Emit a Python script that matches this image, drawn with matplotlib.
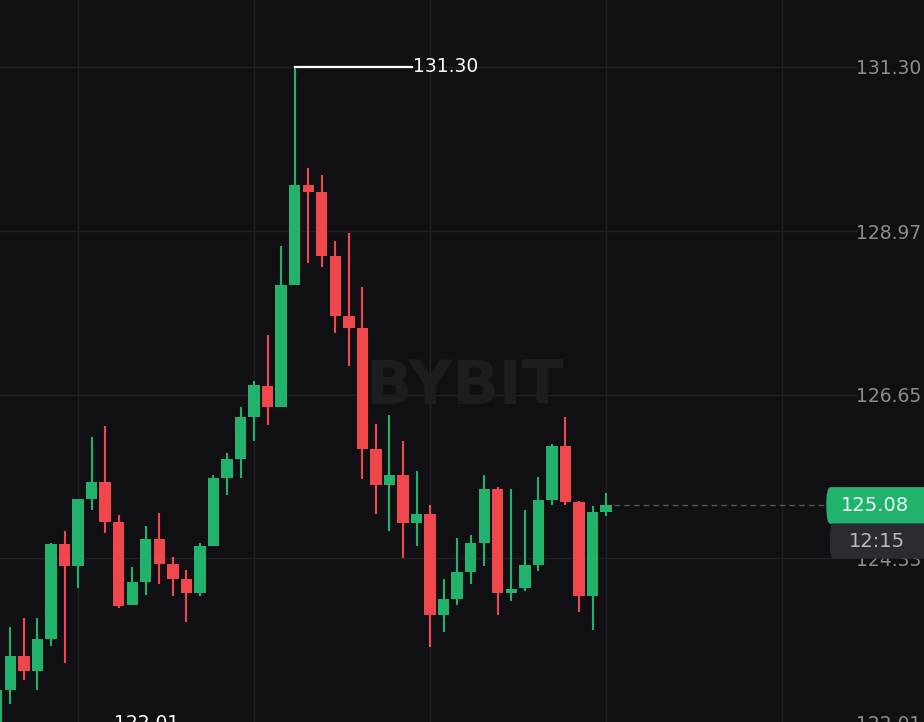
import numpy as np
import matplotlib.pyplot as plt
from matplotlib.patches import FancyBboxPatch
from matplotlib.transforms import blended_transform_factory

########## candle data
opens = [121.87, 122.47, 122.94, 122.74, 123.18, 124.53, 124.22, 125.17, 125.41, 124.85,
         123.67, 124.00, 124.61, 124.25, 124.04, 123.84, 124.51, 125.47, 125.74, 126.34,
         126.78, 126.48, 128.21, 129.62, 129.52, 128.62, 127.77, 127.60, 125.88, 125.37,
         125.51, 124.83, 124.96, 123.53, 123.76, 124.13, 124.55, 125.31, 123.84, 123.91,
         124.24, 125.16, 125.93, 125.13, 123.79, 124.99]
closes = [122.47, 122.94, 122.74, 123.18, 124.53, 124.22, 125.17, 125.41, 124.85, 123.66,
          124.00, 124.61, 124.25, 124.04, 123.84, 124.51, 125.47, 125.74, 126.34, 126.79,
          126.48, 128.21, 129.62, 129.52, 128.62, 127.77, 127.60, 125.88, 125.37, 125.51,
          124.83, 124.96, 123.53, 123.76, 124.13, 124.55, 125.31, 123.84, 123.90, 124.24,
          125.16, 125.93, 125.13, 123.79, 124.99, 125.08]
highs = [122.47, 123.35, 123.49, 123.49, 124.55, 124.72, 125.17, 126.05, 126.20, 124.94,
         124.21, 124.79, 124.97, 124.35, 124.17, 124.55, 125.51, 125.82, 126.48, 126.84,
         127.50, 128.76, 131.30, 129.87, 129.76, 128.83, 128.94, 128.18, 126.23, 126.36,
         125.99, 125.57, 125.09, 124.04, 124.62, 124.66, 125.51, 125.34, 125.31, 125.01,
         125.48, 125.95, 126.34, 125.14, 125.07, 125.25]
lows = [121.80, 122.27, 122.60, 122.46, 123.09, 122.84, 123.91, 125.01, 124.69, 123.62,
        123.67, 123.81, 123.97, 123.79, 123.43, 123.80, 124.51, 125.23, 125.47, 125.99,
        126.22, 126.47, 128.21, 128.52, 128.46, 127.53, 127.06, 125.45, 124.96, 124.72,
        124.33, 124.51, 123.07, 123.29, 123.67, 123.96, 124.22, 123.53, 123.72, 123.87,
        124.15, 125.09, 125.09, 123.57, 123.31, 124.93]

price_ticks = [122.01, 124.33, 126.65, 128.97, 131.30]
time_grid = [6, 19, 32, 45, 58]
high_label = "131.30"
low_label = "122.01"
last_price = "125.08"
countdown = "12:15"

BG = '#101014'
GRID = '#202025'
UP = '#21b36c'
DOWN = '#f0474d'

fig = plt.figure(figsize=(9.24, 7.22), dpi=100, facecolor=BG)
ax = fig.add_axes([0, 0, 1, 1], facecolor=BG)

idx = np.arange(len(opens))
o = np.array(opens)
c = np.array(closes)
cols = [UP if c[i] >= o[i] else DOWN for i in idx]
bottom = np.minimum(o, c)
height = np.maximum(np.abs(c - o), 0.05)

# grid
for t in time_grid:
    ax.axvline(t, color=GRID, lw=1.0, zorder=0)
for p in price_ticks:
    ax.axhline(p, xmax=0.928, color=GRID, lw=1.0, zorder=0)

# watermark
ax.text(0.503, 0.463, 'BYBIT', transform=ax.transAxes, ha='center', va='center',
        fontsize=44, fontweight='bold', color='#1c1c21', zorder=0.5)

# candles
ax.vlines(idx, lows, highs, colors=cols, lw=1.5, zorder=2)
ax.bar(idx, height, bottom=bottom, width=0.84, color=cols, zorder=3)

# highest price marker
i_hi = int(np.argmax(highs))
ax.plot([i_hi, 30.66], [highs[i_hi], highs[i_hi]], color='white', lw=1.6, zorder=4)
ax.text(30.75, highs[i_hi], high_label, color='white', fontsize=13.5, va='center', ha='left', zorder=4)

# lowest price marker (cut off at bottom)
ax.text(11.1, 122.13, low_label, color='white', fontsize=13.5, va='top', ha='center', zorder=4)

# last price line + badges
ax.axhline(c[-1], xmin=0.665, xmax=0.893, color='#55555b', lw=1.0, ls=(0, (4, 3)), zorder=1)
tr = blended_transform_factory(ax.transAxes, ax.transData)
ax.add_patch(FancyBboxPatch((0.895, c[-1] - 0.25), 0.12, 0.50, transform=tr,
                            boxstyle='round,pad=0,rounding_size=0.004',
                            mutation_aspect=60, color=UP, zorder=6, clip_on=False))
ax.text(0.947, c[-1], last_price, transform=tr, ha='center', va='center',
        fontsize=14, color='#eafff4', zorder=7)
ax.add_patch(FancyBboxPatch((0.899, c[-1] - 0.745), 0.12, 0.48, transform=tr,
                            boxstyle='round,pad=0,rounding_size=0.003',
                            mutation_aspect=60, color='#2a2c31', zorder=6, clip_on=False))
ax.text(0.949, c[-1] - 0.51, countdown, transform=tr, ha='center', va='center',
        fontsize=14, color='#b9b9bd', zorder=7)

# axes
ax.set_xlim(0.236, 68.48)
ax.set_ylim(122.049, 132.246)
ax.set_xticks([])
ax.yaxis.tick_right()
ax.set_yticks(price_ticks)
ax.set_yticklabels(['%.2f' % p for p in price_ticks])
ax.tick_params(axis='y', length=0, pad=-2, labelcolor='#8b8b90', labelsize=13.5)
for lab in ax.get_yticklabels():
    lab.set_horizontalalignment('right')
for s in ax.spines.values():
    s.set_visible(False)

plt.savefig('out.png', dpi=100, facecolor=BG)
